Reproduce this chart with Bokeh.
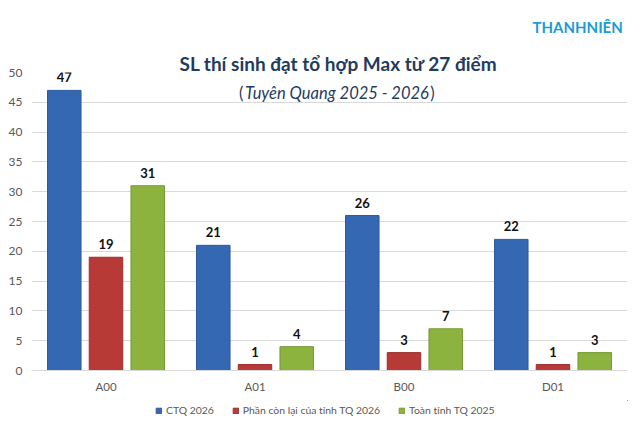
from bokeh.plotting import figure
from bokeh.layouts import column
from bokeh.models import (ColumnDataSource, FactorRange, Range1d, Label, Legend,
                          LegendItem, FixedTicker, Title)
from bokeh.transform import dodge
from bokeh.embed import file_html
from bokeh.resources import INLINE
from bokeh.core.properties import value

# Data
categories = ["A00", "A01", "B00", "D01"]
ctq_2026 = [47, 21, 26, 22]
rest_2026 = [19, 1, 3, 1]
province_2025 = [31, 4, 7, 3]
series_names = ["CTQ 2026", "Phần còn lại của tỉnh TQ 2026", "Toàn tỉnh TQ 2025"]
y_ticks = [0, 5, 10, 15, 20, 25, 30, 35, 40, 45, 50]

title_text = "SL thí sinh đạt tổ hợp Max từ 27 điểm"
subtitle_text = "Tuyên Quang 2025 - 2026"
brand_text = "THANHNIÊN"

FONT = "Lato"
fills = ["#3568b3", "#b73a37", "#8bb33e"]
edges = ["#2d5a9c", "#9d302d", "#779b34"]
HEAD = "#1f3b5e"

src = ColumnDataSource(dict(
    cat=categories,
    s0=ctq_2026, s1=rest_2026, s2=province_2025,
    t0=[str(v) for v in ctq_2026],
    t1=[str(v) for v in rest_2026],
    t2=[str(v) for v in province_2025],
))

p = figure(width=640, height=400, x_range=FactorRange(*categories),
           y_range=Range1d(0, 50), output_backend="svg", toolbar_location=None,
           min_border_left=31, min_border_right=13, min_border_top=72,
           min_border_bottom=30)
p.outline_line_color = None
p.background_fill_color = "white"
p.border_fill_color = "white"

offsets = [-0.28, 0.0, 0.28]
for i, off in enumerate(offsets):
    p.vbar(x=dodge("cat", off, range=p.x_range), top=f"s{i}", width=0.225,
           source=src, fill_color=fills[i], line_color=edges[i], line_width=1)
    p.text(x=dodge("cat", off, range=p.x_range), y=f"s{i}", text=f"t{i}",
           source=src, text_align="center", text_baseline="alphabetic",
           y_offset=-13, text_font=value(FONT), text_font_style="bold",
           text_font_size="13px", text_color="#111111")

# Axes and grid
p.xgrid.grid_line_color = None
p.ygrid.grid_line_color = "#d9d9d9"
p.ygrid.grid_line_width = 1
p.yaxis.ticker = FixedTicker(ticks=y_ticks)
p.yaxis.axis_line_color = None
p.yaxis.major_tick_line_color = None
p.yaxis.minor_tick_line_color = None
p.yaxis.major_label_standoff = 3
p.yaxis.major_label_text_font = FONT
p.yaxis.major_label_text_font_size = "12px"
p.yaxis.major_label_text_color = "#595959"

p.xaxis.axis_line_color = "#d9d9d9"
p.xaxis.major_tick_line_color = None
p.xaxis.minor_tick_line_color = None
p.xaxis.major_label_standoff = 3
p.xaxis.major_label_text_font = FONT
p.xaxis.major_label_text_font_size = "11.5px"
p.xaxis.major_label_text_color = "#595959"

# Heading above the frame, brand mark above the heading
p.add_layout(Title(text=title_text, align="left", offset=148, standoff=-4,
                   text_font=FONT, text_font_style="bold",
                   text_font_size="19px", text_color=HEAD), "above")
p.add_layout(Title(text=brand_text, align="left", offset=501, standoff=31,
                   text_font=FONT, text_font_style="bold",
                   text_font_size="15px", text_color="#1b9bd7"), "above")

# Subtitle inside the frame: upright brackets around italic text
sub_y = 46.64
p.add_layout(Label(x=2.05, y=sub_y, text=subtitle_text, text_align="center",
                   text_baseline="alphabetic", text_font=FONT,
                   text_font_style="italic", text_font_size="16.5px",
                   text_color=HEAD))
p.add_layout(Label(x=1.423, y=sub_y, text="(", text_align="right",
                   text_baseline="alphabetic", text_font=FONT,
                   text_font_size="16.5px", text_color=HEAD))
p.add_layout(Label(x=2.676, y=sub_y, text=")", text_align="left",
                   text_baseline="alphabetic", text_font=FONT,
                   text_font_size="16.5px", text_color=HEAD))

# Legend strip under the chart (its frame is aligned with the chart frame)
lg = figure(width=640, height=29, x_range=Range1d(0, 1), y_range=Range1d(0, 1),
            output_backend="svg", toolbar_location=None, min_border=0,
            x_axis_location=None, y_axis_location=None)
lg.grid.grid_line_color = None
lg.outline_line_color = None
lg.border_fill_color = "white"
lg.background_fill_color = "white"
offscreen = ColumnDataSource(dict(x=[10], top=[10], bottom=[9]))
swatches = [lg.vbar(x="x", top="top", bottom="bottom", width=0.1, source=offscreen,
                    fill_color=fills[i], line_color=edges[i]) for i in range(3)]
legend = Legend(items=[LegendItem(label=series_names[i], renderers=[swatches[i]])
                       for i in range(3)],
                orientation="horizontal", location=(124, 9),
                glyph_width=7, glyph_height=7, label_standoff=4, spacing=18,
                padding=0, margin=0, border_line_color=None,
                background_fill_alpha=0, label_height=20,
                label_text_font=FONT, label_text_font_size="10.4px",
                label_text_color="#595959")
lg.add_layout(legend, "center")

layout = column(p, lg, spacing=0)
open("out.html", "w").write(file_html(layout, INLINE))
